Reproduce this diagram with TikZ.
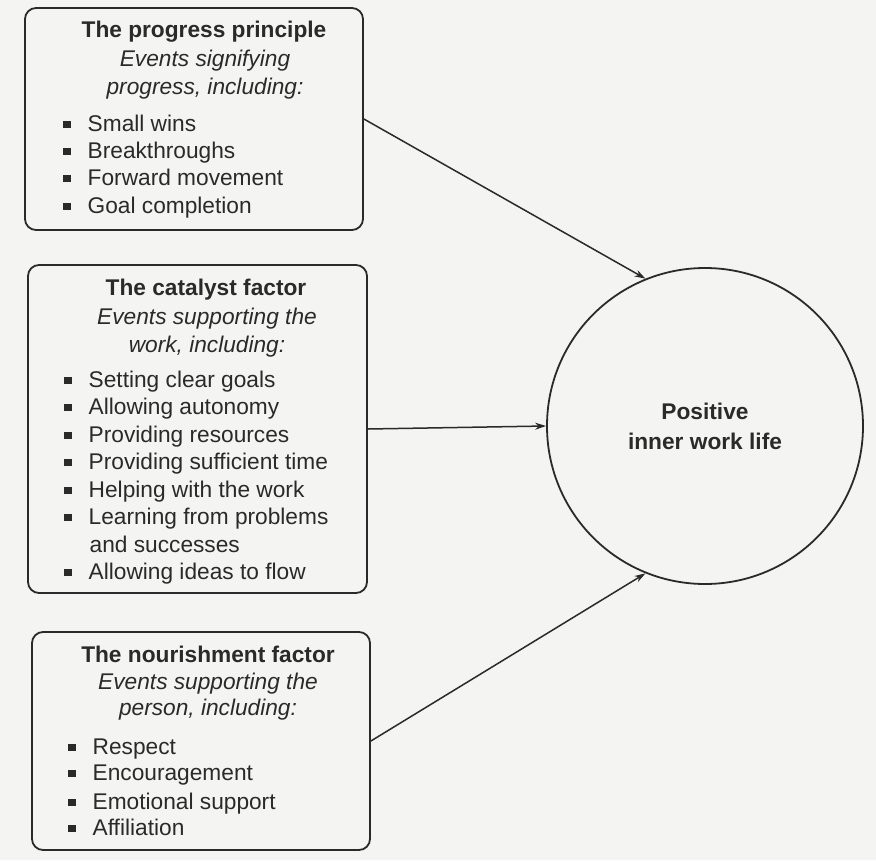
\documentclass[tikz,border=0pt]{standalone}
\usepackage{fontspec}
\setmainfont{Liberation Sans}
\usetikzlibrary{arrows.meta}
\definecolor{bg}{HTML}{F4F4F2}
\definecolor{ink}{HTML}{2A2A2A}
\newcommand{\sqbul}{\raisebox{3pt}{\rule{7.5pt}{7.5pt}}\hspace{17pt}}
\begin{document}
\begin{tikzpicture}[x=1pt,y=-1pt,
  box/.style={draw=ink, line width=1.8pt, rounded corners=11pt, rectangle, inner sep=0pt},
  ttl/.style={anchor=base, font=\fontsize{22.7}{26}\selectfont\bfseries, text=ink, inner sep=0pt},
  sub/.style={anchor=base, font=\fontsize{22.7}{26}\selectfont\itshape, text=ink, inner sep=0pt},
  itm/.style={anchor=base west, font=\fontsize{22.7}{26}\selectfont, text=ink, inner sep=0pt},
  link/.style={draw=ink, line width=1.5pt, -{Stealth[length=11pt,width=7pt]}}]
\fill[bg] (0,0) rectangle (876,860);
\useasboundingbox (0,0) rectangle (876,860);
% boxes
\node[box, minimum width=338pt, minimum height=222pt] (p) at (194,119) {};
\node[box, minimum width=339pt, minimum height=328pt] (c) at (197.5,429) {};
\node[box, minimum width=338pt, minimum height=218pt] (n) at (201,741) {};
% circle
\node[circle, draw=ink, line width=1.8pt, minimum size=316pt, align=center,
      font=\fontsize{22.7}{30}\selectfont\bfseries, text=ink] (g) at (705,426) {Positive\\inner work life};
% box 1 text
\node[ttl] (p0) at (204,37) {The progress principle};
\node[sub] (p1) at (205,66) {Events signifying};
\node[sub] (p2) at (205,94) {progress, including:};
\node[itm] (p3) at (63,131) {\sqbul Small wins};
\node[itm] (p4) at (63,158) {\sqbul Breakthroughs};
\node[itm] (p5) at (63,185) {\sqbul Forward movement};
\node[itm] (p6) at (63,213) {\sqbul Goal completion};
% box 2 text
\node[ttl] (c0) at (206,295) {The catalyst factor};
\node[sub] (c1) at (207,324) {Events supporting the};
\node[sub] (c2) at (207,352) {work, including:};
\node[itm] (c3) at (64,387) {\sqbul Setting clear goals};
\node[itm] (c4) at (64,414) {\sqbul Allowing autonomy};
\node[itm] (c5) at (64,442) {\sqbul Providing resources};
\node[itm] (c6) at (64,469) {\sqbul Providing sufficient time};
\node[itm] (c7) at (64,497) {\sqbul Helping with the work};
\node[itm] (c8) at (64,524) {\sqbul Learning from problems};
\node[itm] (c9) at (89.5,552) {and successes};
\node[itm] (c10) at (64,579) {\sqbul Allowing ideas to flow};
% box 3 text
\node[ttl] (n0) at (208,662) {The nourishment factor};
\node[sub] (n1) at (208,689) {Events supporting the};
\node[sub] (n2) at (208,715) {person, including:};
\node[itm] (n3) at (68,754) {\sqbul Respect};
\node[itm] (n4) at (68,780) {\sqbul Encouragement};
\node[itm] (n5) at (68,809) {\sqbul Emotional support};
\node[itm] (n6) at (68,835) {\sqbul Affiliation};
% connectors
\draw[link] (p.east) -- (g.112.5);
\draw[link] (c.east) -- (g.west);
\draw[link] (n.east) -- (g.248);
\end{tikzpicture}
\end{document}
